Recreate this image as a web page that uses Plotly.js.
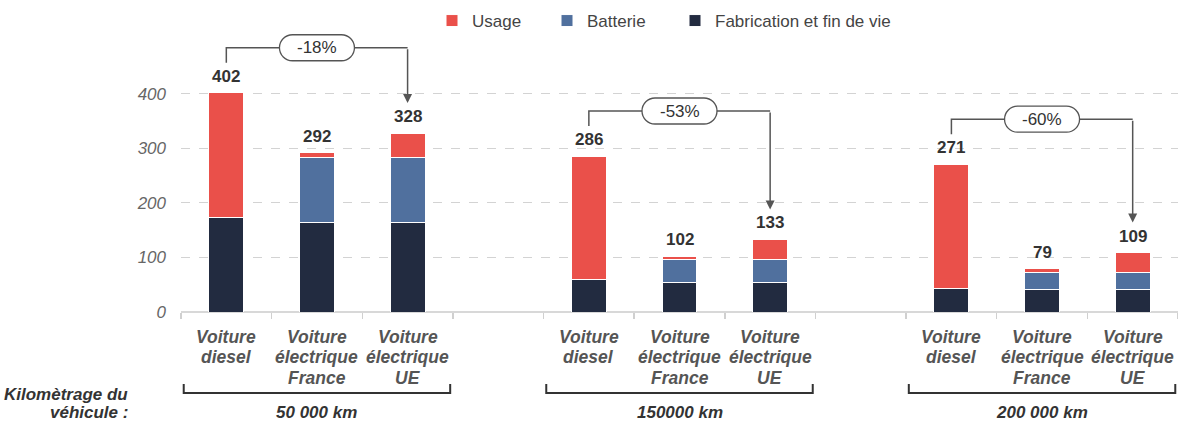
<!DOCTYPE html>
<html>
<head>
<meta charset="utf-8">
<script src="https://cdn.plot.ly/plotly-3.0.1.min.js"></script>
<style>html,body{margin:0;padding:0;background:#fff;}#chart{width:1178px;height:423px;}</style>
</head>
<body>
<div id="chart"></div>
<script>
// ---- Data ----
const groups = ['50 000 km', '150000 km', '200 000 km'];
const vehicles = ['Voiture<br>diesel', 'Voiture<br>électrique<br>France', 'Voiture<br>électrique<br>UE'];
const fabrication = [174, 164, 164, 59, 55, 55, 44, 41, 41];
const batterie = [0, 120, 120, 0, 41, 41, 0, 32, 31];
const usage = [228, 8, 44, 227, 6, 37, 227, 6, 37];
const totals = [402, 292, 328, 286, 102, 133, 271, 79, 109];
const reductions = ['-18%', '-53%', '-60%'];
const yTicks = [0, 100, 200, 300, 400];
const seriesNames = ['Fabrication et fin de vie', 'Batterie', 'Usage'];
const seriesColors = ['#222B40', '#50709E', '#EA504A'];

// slot positions: 3 bars per group with an empty slot between groups
const xPos = [];
groups.forEach((g, gi) => vehicles.forEach((v, vi) => xPos.push(gi * 4 + vi)));

const FONT = 'Liberation Sans, Arial, Helvetica, sans-serif';
const seriesValues = [fabrication, batterie, usage];
const legendIds = ['legend3', 'legend2', 'legend'];
const traces = seriesValues.map((vals, k) => ({
  type: 'bar', x: xPos, y: vals, name: seriesNames[k], legend: legendIds[k],
  marker: {color: seriesColors[k], line: {color: '#ffffff', width: 1}},
  hoverinfo: 'skip'
}));

// geometry helpers
const H = 423, T = 18, B = 111, plotH = H - T - B;
const yMax = 539;
const pxToPaper = px => ((H - B) - px) / plotH;
const pxUnits = yMax / plotH; // data units per pixel

const annotations = [];
const shapes = [];

// totals above bars
totals.forEach((t, i) => annotations.push({
  x: xPos[i], y: t, xref: 'x', yref: 'y', text: String(t), showarrow: false,
  yanchor: 'bottom', yshift: 5, font: {family: FONT, size: 17, color: '#333', weight: 'bold'}
}));

// category labels (one annotation per line)
xPos.forEach((x, i) => {
  const lines = vehicles[i % 3].split('<br>');
  lines.forEach((ln, j) => annotations.push({
    x: x, xref: 'x', yref: 'paper', y: pxToPaper(337 + 20.5 * j), yanchor: 'middle',
    text: ln, showarrow: false,
    font: {family: FONT, size: 17.5, color: '#555', weight: 'bold', style: 'italic'}
  }));
});

// group brackets and labels
groups.forEach((g, gi) => {
  const mid = gi * 4 + 1;
  const x0 = mid - 1.47, x1 = mid + 1.47;
  const yb = pxToPaper(393), yt = pxToPaper(384);
  shapes.push({type: 'path', xref: 'x', yref: 'paper',
    path: `M ${x0},${yt} L ${x0},${yb} L ${x1},${yb} L ${x1},${yt}`,
    line: {color: '#333', width: 2}});
  annotations.push({x: mid, xref: 'x', yref: 'paper', y: pxToPaper(412), yanchor: 'middle',
    text: g, showarrow: false, font: {family: FONT, size: 17, color: '#333', weight: 'bold', style: 'italic'}});
});

// axis title on the left
annotations.push({xref: 'paper', yref: 'paper', x: (130 - 181) / 997, xanchor: 'right', y: pxToPaper(394), yanchor: 'middle',
  text: 'Kilomètrage du', showarrow: false, font: {family: FONT, size: 17, color: '#333', weight: 'bold', style: 'italic'}});
annotations.push({xref: 'paper', yref: 'paper', x: (130 - 181) / 997, xanchor: 'right', y: pxToPaper(412), yanchor: 'middle',
  text: 'véhicule :', showarrow: false, font: {family: FONT, size: 17, color: '#333', weight: 'bold', style: 'italic'}});

// reduction arrows
groups.forEach((g, gi) => {
  const xd = gi * 4, xf = gi * 4 + 1, xu = gi * 4 + 2;
  const tDiesel = totals[gi * 3], tUE = totals[gi * 3 + 2];
  const hy = tDiesel + 45 * pxUnits;
  const lb = tDiesel + 30 * pxUnits;
  const tip = tUE + 30 * pxUnits;
  shapes.push({type: 'path', xref: 'x', yref: 'y',
    path: `M ${xd},${lb} L ${xd},${hy} L ${xu},${hy}`,
    line: {color: '#555', width: 1.5}});
  annotations.push({x: xu, y: tip, ax: xu, ay: hy, xref: 'x', yref: 'y', axref: 'x', ayref: 'y',
    text: '', showarrow: true, arrowhead: 2, arrowsize: 1.2, arrowwidth: 1.5, arrowcolor: '#555', standoff: 0});
  const w = 37.5, h = 13, r = 13, k = 0.552 * r;
  const a = w - r;
  shapes.push({type: 'path', xref: 'x', yref: 'y', xsizemode: 'pixel', ysizemode: 'pixel', xanchor: xf, yanchor: hy,
    path: `M ${-a},${h} L ${a},${h} C ${a + k},${h} ${w},${k} ${w},0 C ${w},${-k} ${a + k},${-h} ${a},${-h} L ${-a},${-h} C ${-a - k},${-h} ${-w},${-k} ${-w},0 C ${-w},${k} ${-a - k},${h} ${-a},${h} Z`,
    fillcolor: '#ffffff', line: {color: '#555', width: 1.3}});
  annotations.push({x: xf, y: hy, xref: 'x', yref: 'y', text: reductions[gi], showarrow: false,
    yanchor: 'middle', font: {family: FONT, size: 17, color: '#333'}});
});

const boundaries = [];
for (let b = -0.5; b <= 10.5; b += 1) boundaries.push(b);

const legendBase = (xpx) => ({orientation: 'h', xref: 'container', yref: 'container',
  x: xpx / 1178, xanchor: 'left', y: 1 - 21 / H, yanchor: 'middle',
  font: {family: FONT, size: 17, color: '#444'}, bgcolor: 'rgba(0,0,0,0)'});

const layout = {
  width: 1178, height: H,
  margin: {l: 181, r: 0, t: T, b: B, autoexpand: false},
  paper_bgcolor: '#fff', plot_bgcolor: '#fff',
  font: {family: FONT, color: '#444'},
  barmode: 'stack', bargap: 0.614,
  showlegend: true,
  legend: legendBase(432),
  legend2: legendBase(547),
  legend3: legendBase(675),
  xaxis: {range: [-0.5, 10.5], tickmode: 'array', tickvals: boundaries, showticklabels: false,
    ticks: 'outside', ticklen: 6, tickcolor: '#d0d0d0', tickwidth: 1.5,
    showgrid: false, zeroline: false, showline: false, fixedrange: true},
  yaxis: {range: [0, yMax], tickmode: 'array', tickvals: yTicks, ticktext: yTicks.map(String),
    tickfont: {family: FONT, size: 17, color: '#666', style: 'italic'}, ticklabelstandoff: 14,
    showgrid: true, gridcolor: '#d3d3d3', griddash: 'dash', gridwidth: 1,
    zeroline: true, zerolinecolor: '#d8d8d8', zerolinewidth: 2, showline: false, fixedrange: true},
  annotations: annotations,
  shapes: shapes
};

Plotly.newPlot('chart', traces, layout, {displayModeBar: false, staticPlot: true});
</script>
</body>
</html>
